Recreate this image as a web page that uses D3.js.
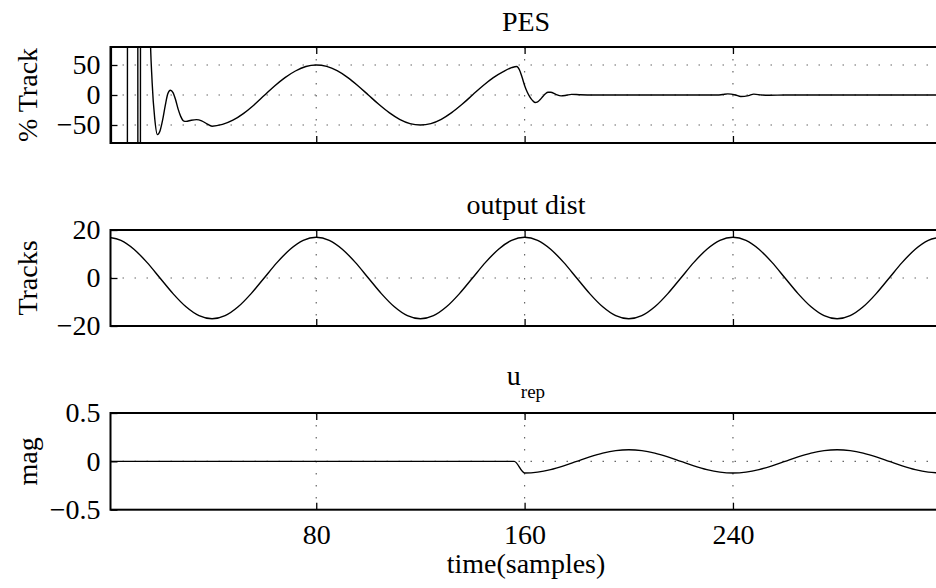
<!DOCTYPE html>
<html>
<head>
<meta charset="utf-8">
<script src="https://cdn.jsdelivr.net/npm/d3@7"></script>
<style>
  body { margin: 0; background: #fff; }
  svg { display: block; }
  svg text { font-family: "Liberation Serif", "Times New Roman", Times, serif; }
</style>
</head>
<body>
<div id="chart"></div>
<script>
// x axis (samples)
const sampleTicks = [80, 160, 240]

// PES (% track)
const pesTicks = [-50, 0, 50]
const pesSample = [1, 2, 7, 8, 11, 12, 13, 15, 16, 17, 18, 19, 20, 21, 22, 23, 24, 25, 26, 27, 28, 29, 30,
  32, 34, 36, 38, 40, 44, 48, 52, 56, 60, 64, 68, 72, 76, 80, 84, 88, 92, 96, 100, 104, 108, 112, 116,
  120, 124, 128, 132, 136, 140, 144, 148, 152, 155, 157, 158, 159, 160, 161, 162, 163, 164, 165, 166,
  167, 168, 169, 170, 172, 174, 176, 178, 181, 186, 200, 234, 236, 238, 241, 243, 246, 248, 251, 254, 260, 320]
const pesValue = [3000, -3000, -3000, 3000, 3000, -3000, 3000, 3000, 150, 20, -40, -66, -60, -42, -18, 2, 8, 4, -8, -24, -36, -43, -44,
  -42, -41, -43, -48, -52, -49, -42, -31, -17, -1, 15, 29, 40, 47.5, 50, 47.6, 40.5, 29.4, 15.5, 0, -15.5, -29.4, -40.5, -47.6,
  -50, -47.6, -40.5, -29.4, -15.5, 0, 15.5, 29, 39.5, 45.5, 47.5, 42, 30, 16, 5, -3, -9, -12.5, -11.5, -7.5,
  -2.5, 2, 4.5, 4.5, 1, -1.5, -0.5, 1, 0.5, 0, 0, 0, 0.8, 1.8, 0, -2.5, -1, 1.4, 0, -0.4, 0, 0]

// output dist (tracks)
const distTicks = [-20, 0, 20]
const distSample = [0, 5, 10, 15, 20, 25, 30, 35, 40, 45, 50, 55, 60, 65, 70, 75,
  80, 85, 90, 95, 100, 105, 110, 115, 120, 125, 130, 135, 140, 145, 150, 155,
  160, 165, 170, 175, 180, 185, 190, 195, 200, 205, 210, 215, 220, 225, 230, 235,
  240, 245, 250, 255, 260, 265, 270, 275, 280, 285, 290, 295, 300, 305, 310, 315, 320]
const distValue = [17, 15.7, 12, 6.5, 0, -6.5, -12, -15.7, -17, -15.7, -12, -6.5, 0, 6.5, 12, 15.7,
  17, 15.7, 12, 6.5, 0, -6.5, -12, -15.7, -17, -15.7, -12, -6.5, 0, 6.5, 12, 15.7,
  17, 15.7, 12, 6.5, 0, -6.5, -12, -15.7, -17, -15.7, -12, -6.5, 0, 6.5, 12, 15.7,
  17, 15.7, 12, 6.5, 0, -6.5, -12, -15.7, -17, -15.7, -12, -6.5, 0, 6.5, 12, 15.7, 17]

// u_rep (mag)
const urepTicks = [-0.5, 0, 0.5]
const urepSample = [1, 156, 160, 165, 170, 175, 180, 185, 190, 195, 200, 205, 210, 215, 220, 225, 230, 235,
  240, 245, 250, 255, 260, 265, 270, 275, 280, 285, 290, 295, 300, 305, 310, 315, 320]
const urepValue = [0, 0, -0.12, -0.111, -0.085, -0.046, 0, 0.046, 0.085, 0.111, 0.12, 0.111, 0.085, 0.046, 0, -0.046, -0.085, -0.111,
  -0.12, -0.111, -0.085, -0.046, 0, 0.046, 0.085, 0.111, 0.12, 0.111, 0.085, 0.046, 0, -0.046, -0.085, -0.111, -0.12]

const width = 936
const height = 588
const left = 110.5, right = 941.3
const tickLen = 7
const serif = '"Liberation Serif", "Times New Roman", Times, serif'

const svg = d3.select('#chart')
  .append('svg')
  .attr('width', width)
  .attr('height', height)
  .attr('font-family', serif)

const x = d3.scaleLinear().domain([1, 320]).range([left, right])

const fmt = d => d < 0 ? '\u2212' + Math.abs(d) : String(d)

const panels = [
  {id: 'pes', top: 47, bottom: 143, domain: [-80, 80], ticks: pesTicks, xs: pesSample, ys: pesValue, label: '% Track'},
  {id: 'dist', top: 230, bottom: 326, domain: [-20, 20], ticks: distTicks, xs: distSample, ys: distValue, label: 'Tracks'},
  {id: 'urep', top: 413, bottom: 509.7, domain: [-0.5, 0.5], ticks: urepTicks, xs: urepSample, ys: urepValue, label: 'mag'}
]

panels.forEach((p, i) => {
  const y = d3.scaleLinear().domain(p.domain).range([p.bottom, p.top])
  const g = svg.append('g')

  g.append('clipPath').attr('id', 'clip-' + p.id)
    .append('rect')
    .attr('x', left).attr('y', p.top)
    .attr('width', right - left).attr('height', p.bottom - p.top)

  // dotted grid
  const grid = g.append('g')
    .attr('stroke', '#666')
    .attr('stroke-width', 1.2)
    .attr('stroke-dasharray', '1.5 10.5')
  grid.selectAll('.vg').data(sampleTicks).join('line')
    .attr('x1', d => x(d)).attr('x2', d => x(d))
    .attr('y1', p.top).attr('y2', p.bottom)
  grid.selectAll('.hg').data(p.ticks.filter(t => y(t) > p.top + 1 && y(t) < p.bottom - 1)).join('line')
    .attr('x1', left).attr('x2', right)
    .attr('y1', d => y(d)).attr('y2', d => y(d))

  // data line
  const pts = p.xs.map((s, k) => [s, p.ys[k]])
  g.append('path')
    .datum(pts)
    .attr('clip-path', `url(#clip-${p.id})`)
    .attr('fill', 'none')
    .attr('stroke', '#000')
    .attr('stroke-width', 1.4)
    .attr('d', d3.line().x(d => x(d[0])).y(d => y(d[1])).curve(d3.curveMonotoneX))

  // axes with inward ticks
  const yAxis = d3.axisLeft(y).tickValues(p.ticks).tickSize(-tickLen).tickPadding(10).tickFormat(fmt)
  const yAxisG = g.append('g').attr('transform', `translate(${left},0)`).call(yAxis)

  const topAxisG = g.append('g').attr('transform', `translate(0,${p.top})`)
    .call(d3.axisTop(x).tickValues(sampleTicks).tickSize(-tickLen).tickFormat(''))

  const bottomAxis = d3.axisBottom(x).tickValues(sampleTicks).tickSize(-tickLen).tickPadding(14.4)
    .tickFormat(i === panels.length - 1 ? d => d : '')
  const bottomAxisG = g.append('g').attr('transform', `translate(0,${p.bottom})`).call(bottomAxis)

  ;[yAxisG, topAxisG, bottomAxisG].forEach(a => {
    a.attr('font-family', serif).attr('font-size', 28)
    a.select('.domain').remove()
    a.selectAll('.tick line').attr('stroke', '#000').attr('stroke-width', 1.3)
    a.selectAll('.tick text').attr('fill', '#000')
  })

  // box
  g.append('rect')
    .attr('x', left).attr('y', p.top)
    .attr('width', right - left).attr('height', p.bottom - p.top)
    .attr('fill', 'none')
    .attr('stroke', '#000')
    .attr('stroke-width', 2)

  // y label
  g.append('text')
    .attr('transform', `translate(36.5,${(p.top + p.bottom) / 2}) rotate(-90)`)
    .attr('text-anchor', 'middle')
    .attr('font-size', 28)
    .text(p.label)
})

// titles
svg.append('text')
  .attr('x', 526).attr('y', 31)
  .attr('text-anchor', 'middle')
  .attr('font-size', 28)
  .text('PES')

svg.append('text')
  .attr('x', 526).attr('y', 214)
  .attr('text-anchor', 'middle')
  .attr('font-size', 28)
  .text('output dist')

const urepTitle = svg.append('text')
  .attr('x', 526).attr('y', 385)
  .attr('text-anchor', 'middle')
  .attr('font-size', 28)
urepTitle.append('tspan').text('u')
urepTitle.append('tspan').attr('font-size', 19).attr('dy', 13).text('rep')

svg.append('text')
  .attr('x', 526).attr('y', 573)
  .attr('text-anchor', 'middle')
  .attr('font-size', 28)
  .text('time(samples)')
</script>
</body>
</html>
